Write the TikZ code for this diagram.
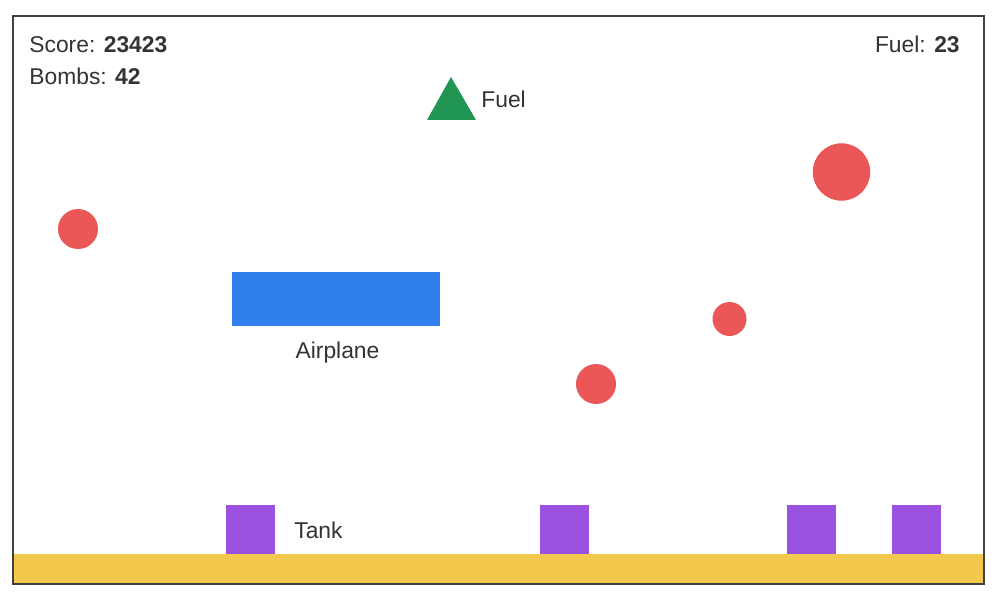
\documentclass[tikz,border=0pt]{standalone}
\usepackage{fontspec}
\setmainfont{Liberation Sans}
\usepackage{tikz}
\usetikzlibrary{calc}
\definecolor{bombred}{HTML}{EB5757}
\definecolor{planeblue}{HTML}{2F80ED}
\definecolor{tankpurple}{HTML}{9B51E0}
\definecolor{groundyellow}{HTML}{F2C94C}
\definecolor{fuelgreen}{HTML}{219653}
\definecolor{textgray}{HTML}{333333}
\tikzset{
    label text/.style={inner sep=0pt, text=textgray, font=\fontsize{13}{15}\selectfont},
    tank/.style={fill=tankpurple},
    bomb/.style={fill=bombred}
}
\newcommand{\tankbox}[2]{\fill[tank] (#1,505) rectangle (#1+49,554) coordinate (#2);}

\begin{document}
\begin{tikzpicture}[x=0.02cm,y=-0.02cm]
\useasboundingbox (0,0) rectangle (1000,601);
\coordinate (NW) at (13,16);
\coordinate (SE) at (984,584);

\fill[white] (NW) rectangle (SE);
\fill[groundyellow] (13,554) rectangle (SE);

%% status line
\node[label text, anchor=base west] (score) at (29,53) {Score: \textbf{23423}};
\node[label text, anchor=base west] (bombs) at (29,85) {Bombs: \textbf{42}};
\node[label text, anchor=base east] (fuelcount) at (960,53) {Fuel: \textbf{23}};

%% fuel
\coordinate (F1) at (451,77);
\coordinate (F2) at (427,120);
\coordinate (F3) at (476,120);
\fill[fuelgreen] (F1) -- (F2) -- (F3) -- cycle;
\node[label text, anchor=base west] (fuel) at (481,108) {Fuel};

%% bombs
\fill[bomb] (78,229) circle (20);
\fill[bomb] (841.5,172) circle (28.7);
\fill[bomb] (729.5,319) circle (17);
\fill[bomb] (596,384) circle (20);

%% airplane
\fill[planeblue] (232,272) rectangle (440,326) coordinate (P);
\node[label text, anchor=base] (airplane) at (337.5,358) {Airplane};

%% tanks
\tankbox{226}{T1}
\tankbox{540}{T2}
\tankbox{787}{T3}
\tankbox{892}{T4}
\node[label text, anchor=base west] (tank) at (294,538) {Tank};

\draw[line width=0.6pt, black!75] (NW) rectangle (SE);
\end{tikzpicture}
\end{document}
